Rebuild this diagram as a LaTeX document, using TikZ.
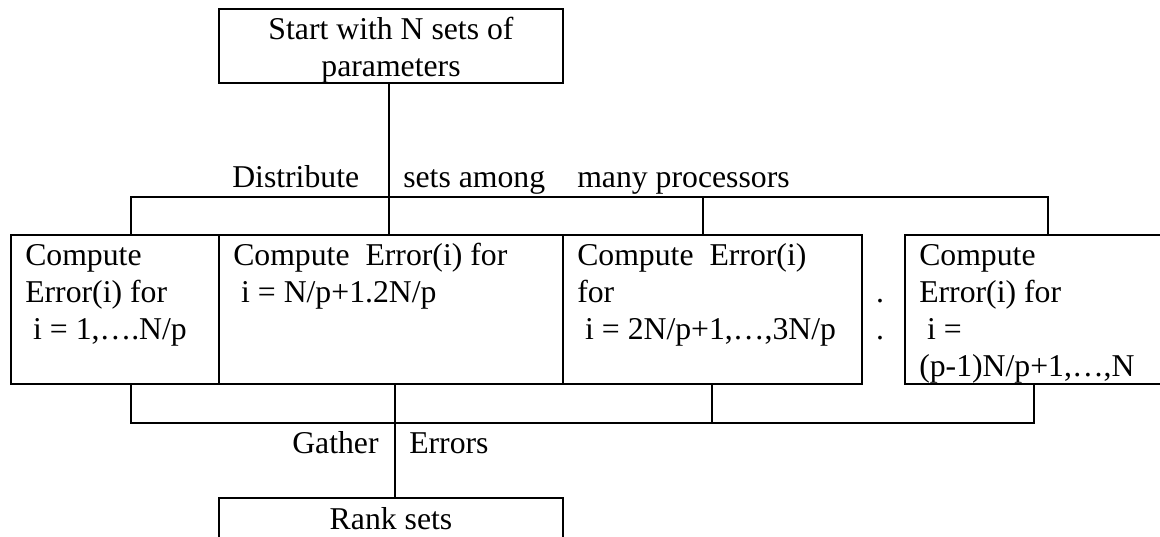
\documentclass[tikz,border=0pt]{standalone}
\usepackage{fontspec}
\setmainfont{Liberation Serif}
\begin{document}
\begin{tikzpicture}[x=0.75pt,y=-0.75pt,
  wire/.style={line width=1.4pt},
  box/.style={draw, line width=1.4pt, rectangle, inner sep=0pt},
  txt/.style={inner sep=0pt, font=\fontsize{23.8}{27.75}\selectfont},
  boxtxt/.style={txt, anchor=north west, align=left},
  lbl/.style={txt, anchor=base west}]
\useasboundingbox (0,0) rectangle (1160,536);
\clip (0,0) rectangle (1160,536);
% boxes
\node[box, minimum width=258pt, minimum height=55.5pt] (top) at (391,46) {};
\node[box, minimum width=156pt, minimum height=111.75pt] (b1) at (115,309.5) {};
\node[box, minimum width=258pt, minimum height=111.75pt] (b2) at (391,309.5) {};
\node[box, minimum width=224.25pt, minimum height=111.75pt] (b3) at (712.5,309.5) {};
\node[box, minimum width=202.5pt, minimum height=111.75pt] (b4) at (1040,309.5) {};
\node[box, minimum width=258pt, minimum height=54pt] (rank) at (391,534) {};
% texts
\node[txt, anchor=north, align=center] (toptxt) at (391,13.1) {\strut Start with N sets of\\parameters};
\node[boxtxt] (b1txt) at (25,239.1) {\strut Compute\\Error(i) for\\\ i = 1,….N/p};
\node[boxtxt] (b2txt) at (233,239.1) {\strut Compute~ Error(i) for\\\ i = N/p+1.2N/p};
\node[boxtxt] (b3txt) at (577,239.1) {\strut Compute~ Error(i)\\for\\\ i = 2N/p+1,…,3N/p};
\node[boxtxt] (b4txt) at (919,239.1) {\strut Compute\\Error(i) for\\\ i =\\(p-1)N/p+1,…,N};
\node[txt, anchor=base] (ranktxt) at (391,529) {Rank sets};
\node[txt, anchor=base] (dot1) at (880,302) {.};
\node[txt, anchor=base] (dot2) at (880,339) {.};
% labels
\node[lbl] (l1) at (232,187) {Distribute};
\node[lbl] (l2) at (403,187) {sets among};
\node[lbl] (l3) at (577,187) {many processors};
\node[lbl] (l4) at (292,453) {Gather};
\node[lbl] (l5) at (409,453) {Errors};
% distribute bus
\coordinate (dL) at (131,197);
\coordinate (dR) at (1048,197);
\coordinate (d2) at (389,197);
\coordinate (d3) at (703,197);
\draw[wire] (b1.north -| dL) |- (dR) -- (b4.north -| dR);
\draw[wire] (top.south -| d2) -- (b2.north -| d2);
\draw[wire] (d3) -- (b3.north -| d3);
% gather bus
\coordinate (gL) at (131,423);
\coordinate (gR) at (1034,423);
\coordinate (g2) at (395,423);
\coordinate (g3) at (712,423);
\draw[wire] (b1.south -| gL) |- (gR) -- (b4.south -| gR);
\draw[wire] (b2.south -| g2) -- (rank.north -| g2);
\draw[wire] (b3.south -| g3) -- (g3);
\end{tikzpicture}
\end{document}
